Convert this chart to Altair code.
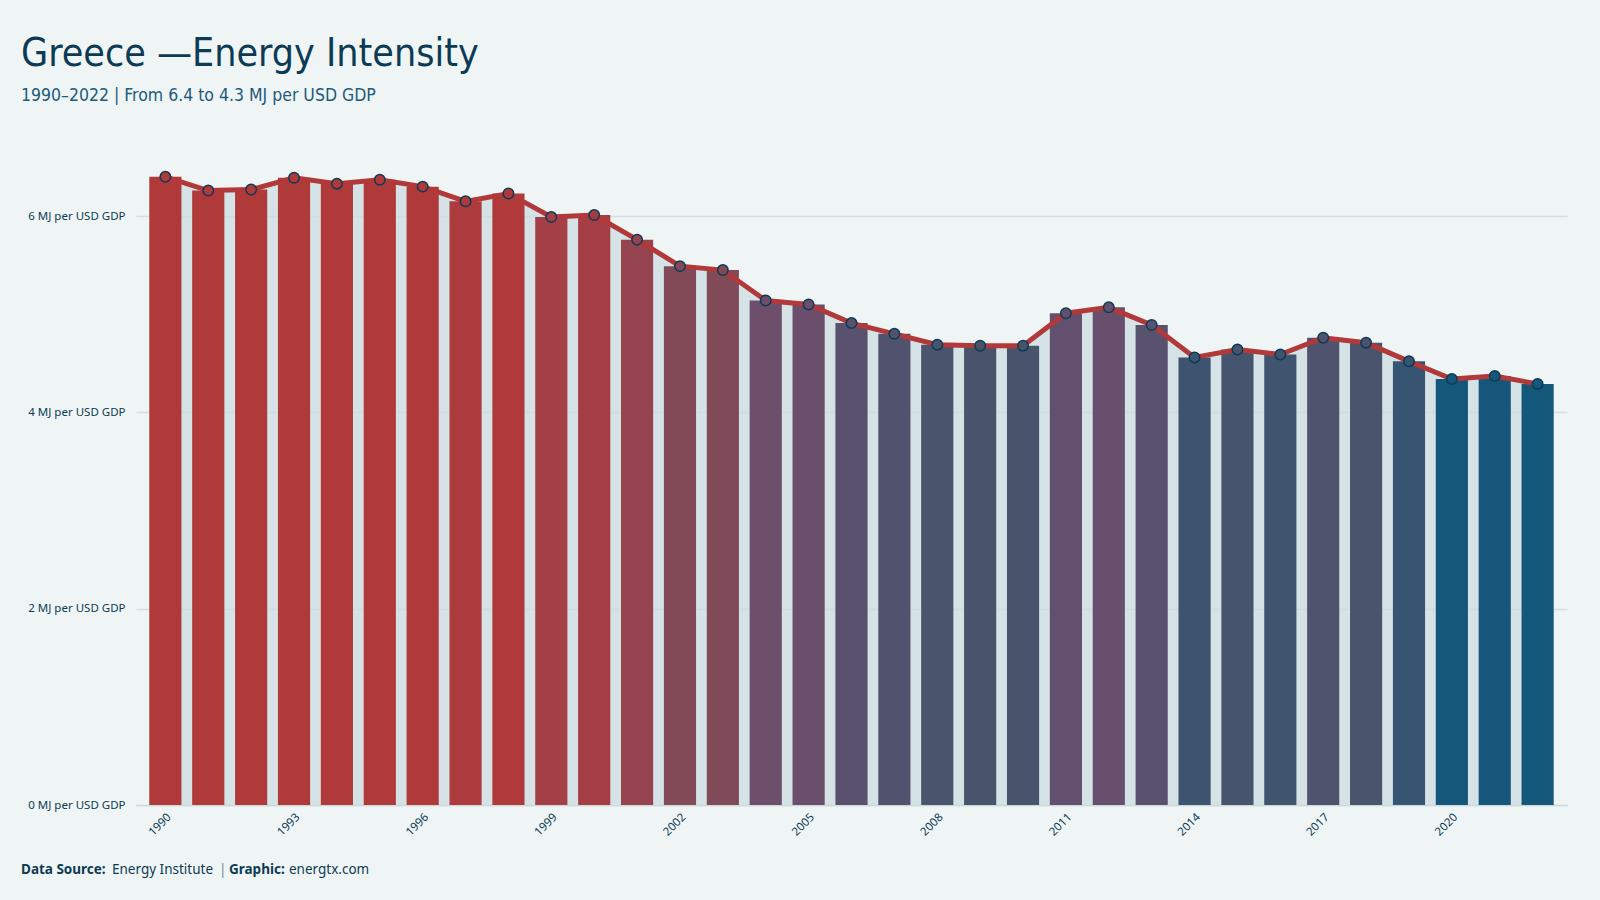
import altair as alt
import pandas as pd

# Greece energy intensity, MJ per USD of GDP
years = list(range(1990, 2023))
intensity = [6.40, 6.26, 6.27, 6.39, 6.33, 6.37, 6.30, 6.15, 6.23, 5.99,
             6.01, 5.76, 5.49, 5.45, 5.14, 5.10, 4.91, 4.80, 4.69, 4.68,
             4.68, 5.01, 5.07, 4.89, 4.56, 4.64, 4.59, 4.76, 4.71, 4.52,
             4.34, 4.37, 4.29]
tick_years = [1990, 1993, 1996, 1999, 2002, 2005, 2008, 2011, 2014, 2017, 2020]
y_ticks = [0, 2, 4, 6]

df = pd.DataFrame({"year": years, "value": intensity})

BG = "#eff5f5"
NAVY = "#0d3b54"
RED = "#b2393a"
TITLE_FONT = "DejaVu Sans Condensed"

color_scale = alt.Scale(
    domain=[4.29, 4.40, 4.56, 4.69, 5.5, 6.2],
    range=["#13577a", "#17567a", "#3d5370", "#4a546c", "#824a55", "#b03a3a"],
    clamp=True,
)

x_enc = alt.X(
    "year:O",
    title=None,
    scale=alt.Scale(paddingInner=0.25, paddingOuter=0.31),
    axis=alt.Axis(
        values=tick_years,
        labelAngle=-45,
        labelFont="Noto Sans",
        labelFontSize=11.5,
        labelColor=NAVY,
        labelPadding=6,
        ticks=False,
        domain=True,
        domainColor="#c9d6d9",
        domainDash=[1, 1],
        domainWidth=2,
        grid=False,
    ),
)
y_enc = alt.Y(
    "value:Q",
    title=None,
    scale=alt.Scale(domain=[0, 6.5], nice=False),
    axis=alt.Axis(
        values=y_ticks,
        labelExpr="datum.value + ' MJ per USD GDP'",
        labelFont="Noto Sans",
        labelFontSize=11.5,
        labelColor=NAVY,
        labelPadding=11,
        ticks=False,
        domain=False,
        grid=True,
        gridColor="#d3dfe2",
        gridWidth=1.5,
    ),
)

base = alt.Chart(df)

area = base.mark_area(color="#cadbe0", opacity=0.7).encode(x=x_enc, y=y_enc)
bars = base.mark_bar().encode(
    x=x_enc, y=y_enc, color=alt.Color("value:Q", scale=color_scale, legend=None)
)
line = base.mark_line(color=RED, strokeWidth=5).encode(x=x_enc, y=y_enc)
points = base.mark_point(filled=True, size=110, stroke=NAVY, strokeWidth=1.5, opacity=1).encode(
    x=x_enc, y=y_enc, fill=alt.Fill("value:Q", scale=color_scale, legend=None)
)

# Source line under the plot, drawn once from a one-row table
one = alt.Chart(pd.DataFrame({"k": [0]}))
foot_y = 638 + 65


def foot(text, x, bold=False, color=NAVY):
    return one.mark_text(
        text=text, font="Noto Sans", fontSize=13.5,
        fontWeight="bold" if bold else "normal",
        color=color, align="left", baseline="middle",
    ).encode(x=alt.value(x), y=alt.value(foot_y))


footer = [
    foot("Data Source:", -115, bold=True),
    foot("Energy Institute", -24),
    foot("|", 83, color="#6d8794"),
    foot("Graphic:", 93, bold=True),
    foot("energtx.com", 153),
]

chart = (
    alt.layer(area, bars, line, points, *footer)
    .properties(
        width=1431,
        height=638,
        background=BG,
        padding={"left": 136, "top": 167, "right": 33, "bottom": 95},
        autosize=alt.AutoSizeParams(type="none"),
        title=alt.Title(
            "Greece —Energy Intensity",
            subtitle="1990–2022 | From 6.4 to 4.3 MJ per USD GDP",
            anchor="start",
            frame="group",
            dx=-115,
            offset=62,
            font=TITLE_FONT,
            fontSize=39,
            fontWeight="normal",
            color=NAVY,
            subtitleFont=TITLE_FONT,
            subtitleFontSize=17.5,
            subtitleColor="#1d5a7c",
            subtitlePadding=13,
        ),
    )
    .configure_view(stroke=None)
)

chart.save("out.html", embed_options={"renderer": "svg", "actions": False})
